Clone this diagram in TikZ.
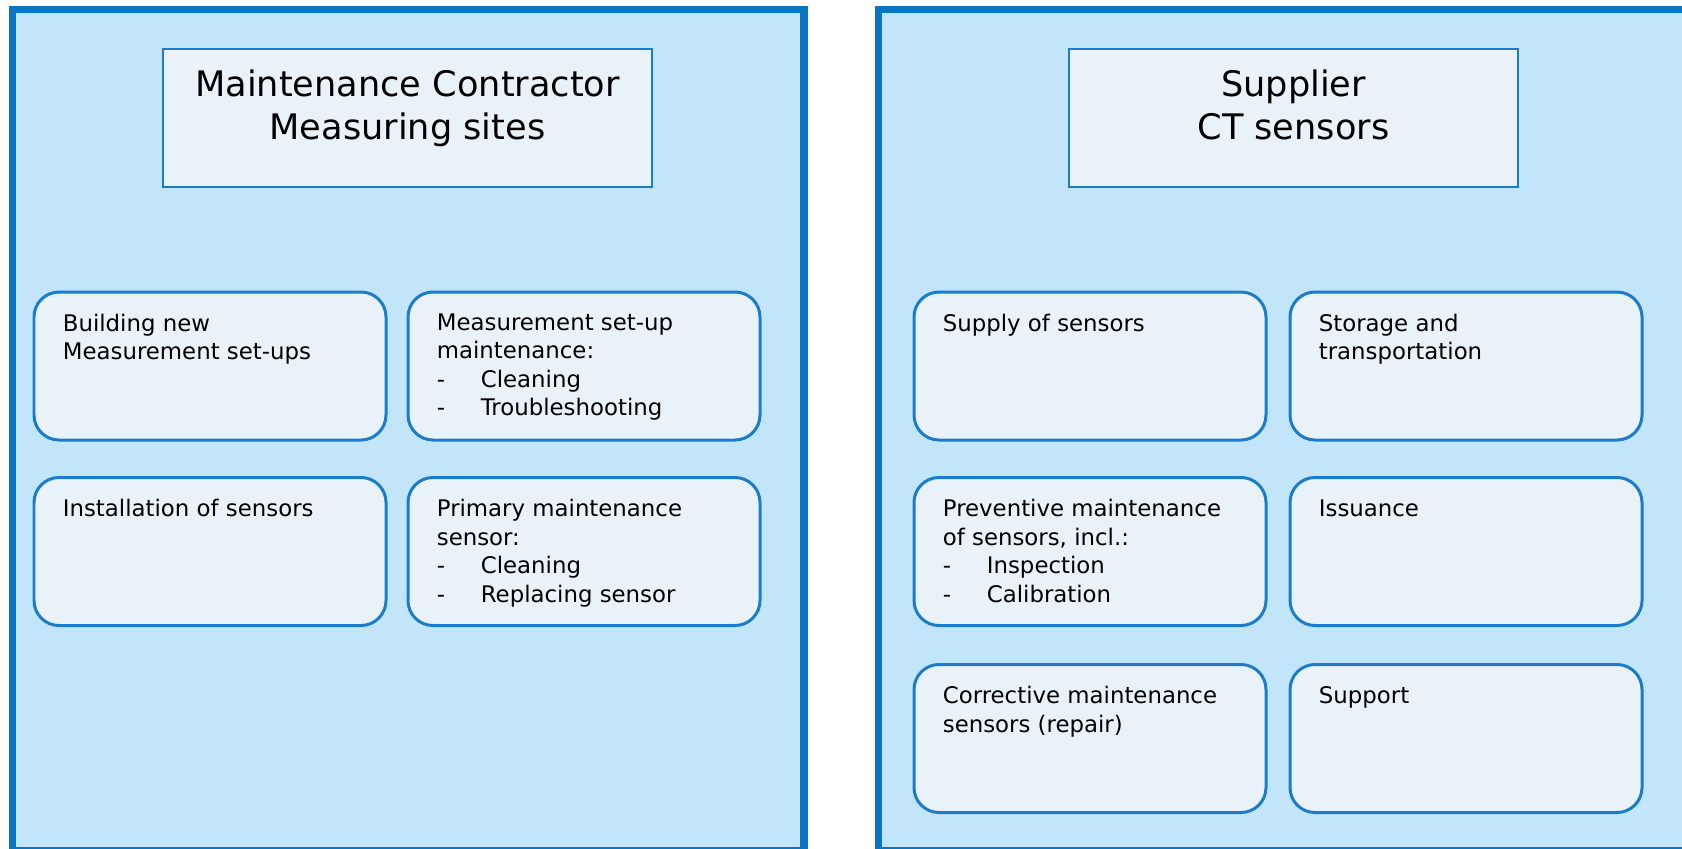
\documentclass[tikz,border=0pt]{standalone}
\usepackage{fontspec}
\setmainfont{DejaVu Sans}
\usetikzlibrary{positioning}
\definecolor{panelfill}{HTML}{C3E5FA}
\definecolor{paneledge}{HTML}{0A75C2}
\definecolor{cardfill}{HTML}{EAF2F9}
\definecolor{cardedge}{HTML}{1A7CCB}
\newcommand{\litem}[1]{\makebox[0.88cm][l]{-}#1}

\begin{document}
\begin{tikzpicture}[
  panel/.style={draw=paneledge, fill=panelfill, line width=4pt, inner sep=0},
  headbox/.style={draw=cardedge, fill=cardfill, line width=1.3pt, inner sep=0,
                  minimum height=2.76cm},
  card/.style={draw=cardedge, fill=cardfill, line width=1.7pt, rounded corners=0.5cm,
               inner sep=0, minimum width=7.04cm, minimum height=2.96cm},
  headtxt/.style={font=\fontsize{20}{24.4}\selectfont, align=center, inner sep=0, anchor=north},
  cardtxt/.style={font=\fontsize{13}{16.2}\selectfont, align=left, inner sep=0, anchor=north west},
]

\useasboundingbox (0,0) rectangle (33.64,-16.96);
\clip (0,0) rectangle (33.64,-16.96);

% ---- two party panels ----
\node[panel, minimum width=15.83cm, minimum height=16.81cm] (contractor) at (8.165,-8.595) {};
\node[panel, minimum width=16.83cm, minimum height=16.81cm] (supplier) at (25.985,-8.595) {};

% ---- panel headers ----
\node[headbox, minimum width=9.78cm] (chead) at (8.15,-2.36) {};
\node[headtxt] (cheadtxt) at ([yshift=-0.44cm]chead.north) {Maintenance Contractor\\Measuring sites};
\node[headbox, minimum width=8.98cm] (shead) at (25.87,-2.36) {};
\node[headtxt] (sheadtxt) at ([yshift=-0.44cm]shead.north) {Supplier\\CT sensors};

% ---- contractor tasks ----
\node[card] (build) at (4.20,-7.32) {};
\node[card] (setup) at (11.68,-7.32) {};
\node[card] (install) at (4.20,-11.03) {};
\node[card] (primary) at (11.68,-11.03) {};

\node[cardtxt] (buildtxt) at ([shift={(0.6,-0.46)}]build.north west) {Building new\\Measurement set-ups};
\node[cardtxt] (setuptxt) at ([shift={(0.6,-0.46)}]setup.north west)
  {Measurement set-up\\maintenance:\\\litem{Cleaning}\\\litem{Troubleshooting}};
\node[cardtxt] (installtxt) at ([shift={(0.6,-0.46)}]install.north west) {Installation of sensors};
\node[cardtxt] (primarytxt) at ([shift={(0.6,-0.46)}]primary.north west)
  {Primary maintenance\\sensor:\\\litem{Cleaning}\\\litem{Replacing sensor}};

% ---- supplier tasks ----
\node[card] (supply) at (21.80,-7.32) {};
\node[card] (storage) at (29.32,-7.32) {};
\node[card] (prevent) at (21.80,-11.03) {};
\node[card] (issue) at (29.32,-11.03) {};
\node[card] (correct) at (21.80,-14.77) {};
\node[card] (support) at (29.32,-14.77) {};

\node[cardtxt] (supplytxt) at ([shift={(0.6,-0.46)}]supply.north west) {Supply of sensors};
\node[cardtxt] (storagetxt) at ([shift={(0.6,-0.46)}]storage.north west) {Storage and\\transportation};
\node[cardtxt] (preventtxt) at ([shift={(0.6,-0.46)}]prevent.north west)
  {Preventive maintenance\\of sensors, incl.:\\\litem{Inspection}\\\litem{Calibration}};
\node[cardtxt] (issuetxt) at ([shift={(0.6,-0.46)}]issue.north west) {Issuance};
\node[cardtxt] (correcttxt) at ([shift={(0.6,-0.46)}]correct.north west) {Corrective maintenance\\sensors (repair)};
\node[cardtxt] (supporttxt) at ([shift={(0.6,-0.46)}]support.north west) {Support};

\end{tikzpicture}
\end{document}
